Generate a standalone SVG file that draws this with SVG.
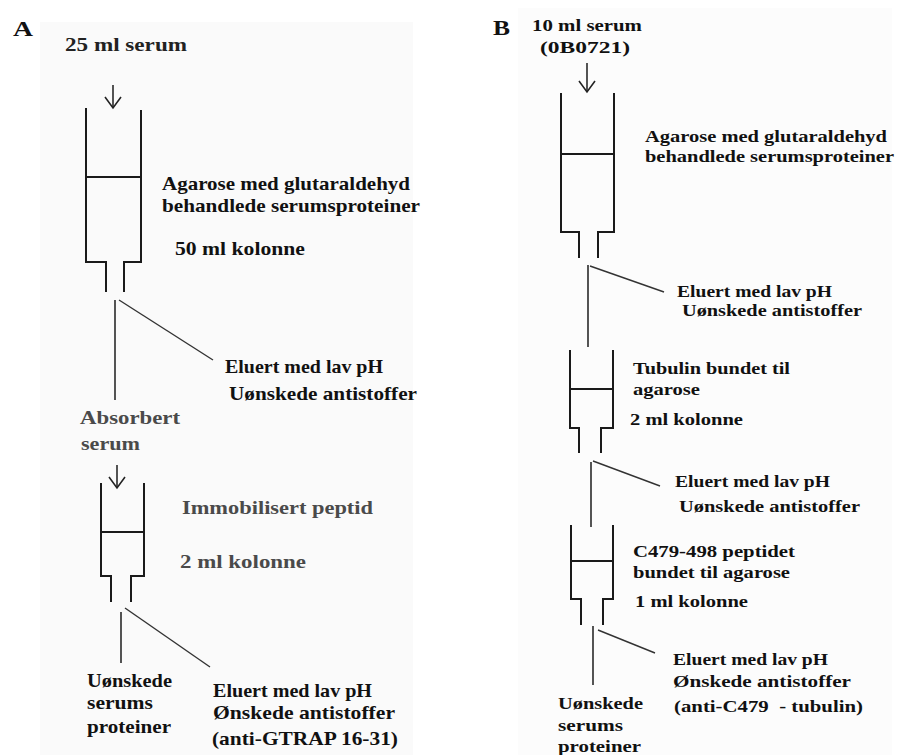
<svg xmlns="http://www.w3.org/2000/svg" width="899" height="755" viewBox="0 0 899 755">
<defs>
<style>
.t{font-family:"Liberation Serif","Times New Roman",serif;font-weight:bold;fill:#111;}
.a{font-size:19.5px;}
.b{font-size:17px;}
.g{fill:#4a4a4a;}
.d{fill:#222;}
.col{fill:none;stroke:#1a1a1a;stroke-width:2;}
.con{fill:none;stroke:#2a2a2a;stroke-width:1.6;}
.dg{fill:none;stroke:#333;stroke-width:1.4;}
</style>
<marker id="v" markerUnits="userSpaceOnUse" viewBox="-12 -9 14 18" refX="0" refY="0" markerWidth="14" markerHeight="18" orient="auto">
<path d="M-11,-8 L0,0 L-11,8" fill="none" stroke="#222" stroke-width="1.6"/>
</marker>
</defs>
<rect width="899" height="755" fill="#ffffff"/>
<rect x="40" y="22" width="373" height="733" fill="#fafafa"/>
<rect x="518" y="8" width="374" height="747" fill="#fcfcfc"/>

<text class="t" x="13" y="36" font-size="22" textLength="20" lengthAdjust="spacingAndGlyphs">A</text>
<text class="t" x="493" y="35" font-size="22" textLength="17" lengthAdjust="spacingAndGlyphs">B</text>

<g id="colA1">
<path class="col" d="M86,108 V262 H106 V292 M141,110 V262 H124 V292 M86,177 H141"/>
<text class="t a" x="162" y="190" textLength="248" lengthAdjust="spacingAndGlyphs">Agarose med glutaraldehyd</text>
<text class="t a" x="162" y="212" textLength="258" lengthAdjust="spacingAndGlyphs">behandlede serumsproteiner</text>
<text class="t a" x="175" y="255" textLength="130" lengthAdjust="spacingAndGlyphs">50 ml kolonne</text>
</g>
<g id="inA">
<text class="t a d" x="65" y="51" textLength="122" lengthAdjust="spacingAndGlyphs">25 ml serum</text>
</g>
<g id="eluA1">
<text class="t a" x="225" y="373" textLength="158" lengthAdjust="spacingAndGlyphs">Eluert med lav pH</text>
<text class="t a" x="229" y="400" textLength="188" lengthAdjust="spacingAndGlyphs">Uønskede antistoffer</text>
</g>
<g id="absA">
<text class="t a g" x="80" y="424" textLength="100" lengthAdjust="spacingAndGlyphs">Absorbert</text>
<text class="t a g" x="81" y="450" textLength="59" lengthAdjust="spacingAndGlyphs">serum</text>
</g>
<g id="colA2">
<path class="col" d="M101,483 V576 H111 V602 M144,483 V576 H131 V602 M101,532 H144"/>
<text class="t a g" x="182" y="514" textLength="191" lengthAdjust="spacingAndGlyphs">Immobilisert peptid</text>
<text class="t a g" x="180" y="568" textLength="126" lengthAdjust="spacingAndGlyphs">2 ml kolonne</text>
</g>
<g id="wasteA">
<text class="t a" x="87" y="687" textLength="85" lengthAdjust="spacingAndGlyphs">Uønskede</text>
<text class="t a" x="87" y="709" textLength="66" lengthAdjust="spacingAndGlyphs">serums</text>
<text class="t a" x="87" y="733" textLength="84" lengthAdjust="spacingAndGlyphs">proteiner</text>
</g>
<g id="eluA2">
<text class="t a" x="213" y="697" textLength="159" lengthAdjust="spacingAndGlyphs">Eluert med lav pH</text>
<text class="t a" x="213" y="719" textLength="182" lengthAdjust="spacingAndGlyphs">Ønskede antistoffer</text>
<text class="t a" x="212" y="745" textLength="186" lengthAdjust="spacingAndGlyphs">(anti-GTRAP 16-31)</text>
</g>

<g id="inB">
<text class="t b" x="532" y="31" textLength="110" lengthAdjust="spacingAndGlyphs">10 ml serum</text>
<text class="t b" x="540" y="53" textLength="90" lengthAdjust="spacingAndGlyphs">(0B0721)</text>
</g>
<g id="colB1">
<path class="col" d="M561,93 V232 H579 V258 M614,93 V232 H598 V258 M561,154 H614"/>
<text class="t b" x="645" y="142" textLength="242" lengthAdjust="spacingAndGlyphs">Agarose med glutaraldehyd</text>
<text class="t b" x="645" y="162" textLength="249" lengthAdjust="spacingAndGlyphs">behandlede serumsproteiner</text>
</g>
<g id="eluB1">
<text class="t b" x="677" y="297" textLength="155" lengthAdjust="spacingAndGlyphs">Eluert med lav pH</text>
<text class="t b" x="682" y="316" textLength="180" lengthAdjust="spacingAndGlyphs">Uønskede antistoffer</text>
</g>
<g id="colB2">
<path class="col" d="M570,350 V428 H579 V453 M613,350 V428 H601 V453 M570,389 H613"/>
<text class="t b" x="633" y="374" textLength="157" lengthAdjust="spacingAndGlyphs">Tubulin bundet til</text>
<text class="t b" x="633" y="395" textLength="67" lengthAdjust="spacingAndGlyphs">agarose</text>
<text class="t b" x="630" y="425" textLength="113" lengthAdjust="spacingAndGlyphs">2 ml kolonne</text>
</g>
<g id="eluB2">
<text class="t b" x="675" y="487" textLength="155" lengthAdjust="spacingAndGlyphs">Eluert med lav pH</text>
<text class="t b" x="679" y="512" textLength="181" lengthAdjust="spacingAndGlyphs">Uønskede antistoffer</text>
</g>
<g id="colB3">
<path class="col" d="M571,525 V599 H581 V625 M613,525 V599 H603 V625 M571,561 H613"/>
<text class="t b" x="633" y="557" textLength="162" lengthAdjust="spacingAndGlyphs">C479-498 peptidet</text>
<text class="t b" x="633" y="578" textLength="157" lengthAdjust="spacingAndGlyphs">bundet til agarose</text>
<text class="t b" x="635" y="607" textLength="113" lengthAdjust="spacingAndGlyphs">1 ml kolonne</text>
</g>
<g id="eluB3">
<text class="t b" x="673" y="665" textLength="155" lengthAdjust="spacingAndGlyphs">Eluert med lav pH</text>
<text class="t b" x="673" y="687" textLength="178" lengthAdjust="spacingAndGlyphs">Ønskede antistoffer</text>
<text class="t b" x="674" y="712" textLength="189" lengthAdjust="spacingAndGlyphs" style="white-space:pre">(anti-C479  - tubulin)</text>
</g>
<g id="wasteB">
<text class="t b" x="558" y="709" textLength="85" lengthAdjust="spacingAndGlyphs">Uønskede</text>
<text class="t b" x="558" y="731" textLength="65" lengthAdjust="spacingAndGlyphs">serums</text>
<text class="t b" x="558" y="752" textLength="83" lengthAdjust="spacingAndGlyphs">proteiner</text>
</g>

<g id="connectors">
<line class="con" x1="113" y1="85" x2="113" y2="108" marker-end="url(#v)"/>
<line class="con" x1="115" y1="300" x2="115" y2="400"/>
<line class="dg" x1="119" y1="300" x2="213" y2="360"/>
<line class="con" x1="117" y1="465" x2="117" y2="488" marker-end="url(#v)"/>
<line class="con" x1="121" y1="612" x2="121" y2="663"/>
<line class="dg" x1="125" y1="608" x2="210" y2="667"/>

<line class="con" x1="587" y1="63" x2="587" y2="92" marker-end="url(#v)"/>
<line class="con" x1="588" y1="265" x2="588" y2="347"/>
<line class="dg" x1="590" y1="266" x2="664" y2="292"/>
<line class="con" x1="591" y1="462" x2="591" y2="527"/>
<line class="dg" x1="593" y1="461" x2="660" y2="486"/>
<line class="con" x1="593" y1="626" x2="593" y2="685"/>
<line class="dg" x1="598" y1="630" x2="655" y2="653"/>
</g>
</svg>
